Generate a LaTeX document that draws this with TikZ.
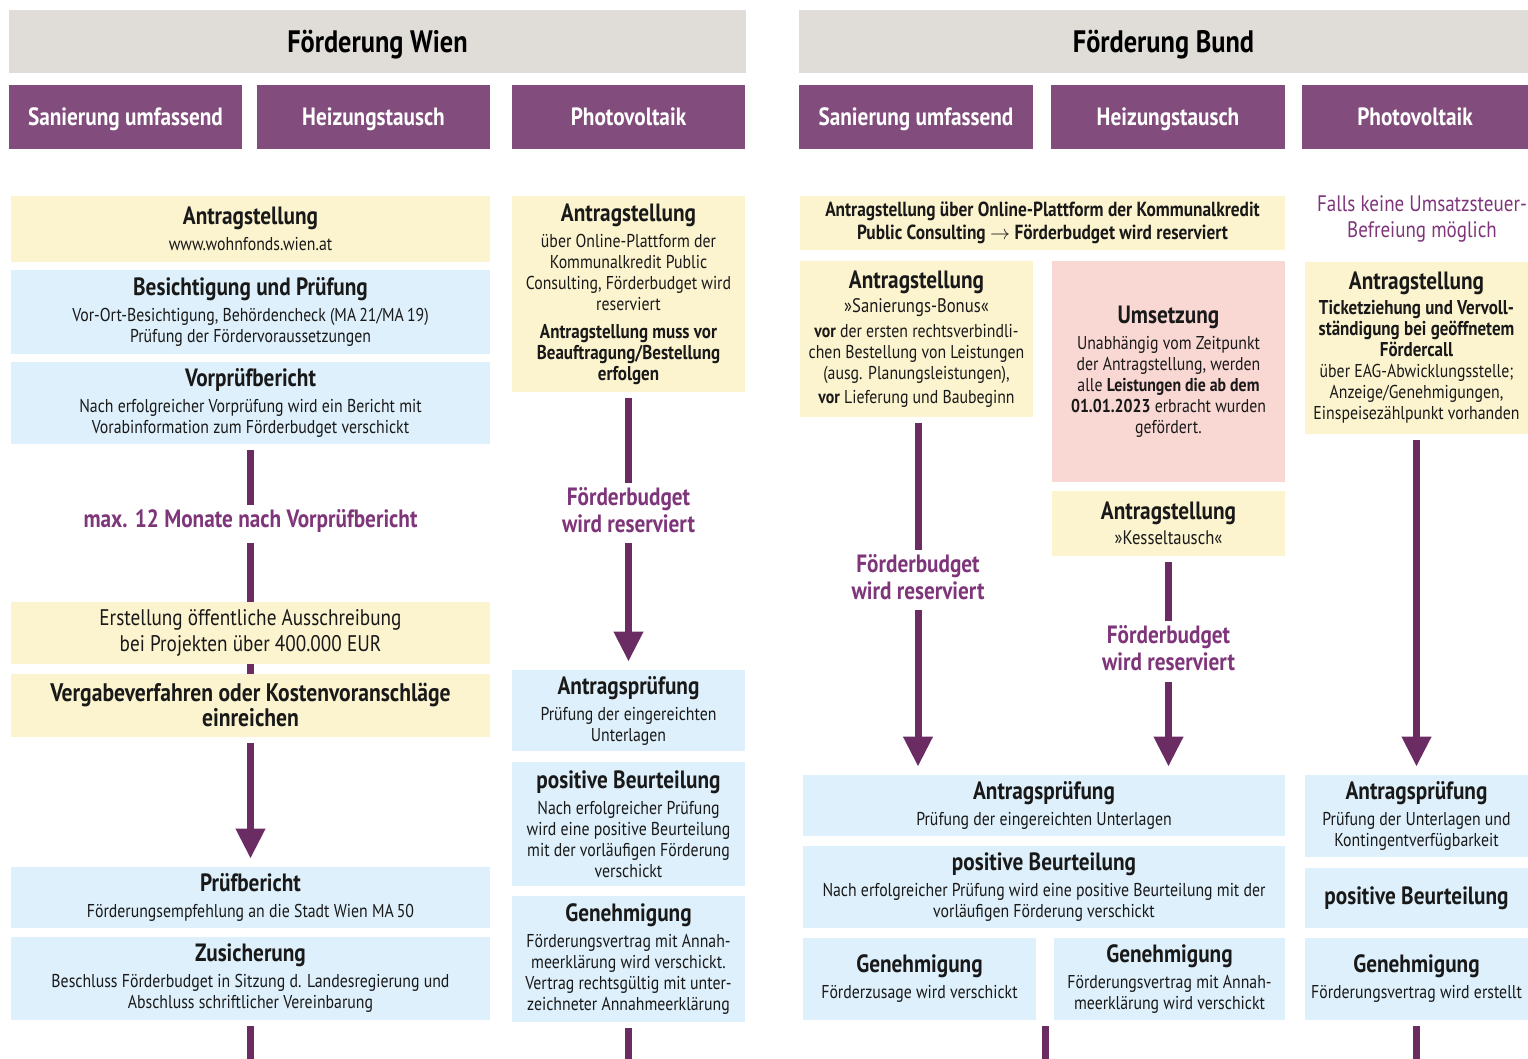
\documentclass[tikz,border=0pt]{standalone}
\usepackage{fontspec}
\setmainfont[FakeStretch=0.85]{PT Sans}
\usepackage{xcolor}
\usetikzlibrary{positioning, calc, arrows.meta}

\definecolor{kopfgrau}{HTML}{E0DCD8}
\definecolor{lila}{HTML}{824D7D}
\definecolor{gelbbox}{HTML}{FCF3CF}
\definecolor{blaubox}{HTML}{DEF0FB}
\definecolor{rosabox}{HTML}{F9D8D4}
\definecolor{lilapfeil}{HTML}{6B2C63}
\definecolor{lilatext}{HTML}{7E3579}

\newcommand{\titel}[1]{{\fontsize{12.5}{14}\selectfont\bfseries #1}}
\newcommand{\fett}[1]{{\fontsize{10}{11}\selectfont\bfseries #1}}

\tikzset{
  abm/.style 2 args={minimum width=#1*0.5pt, minimum height=#2*0.5pt},
  feld/.style={inner sep=0pt, align=center, text=black!90, font=\fontsize{9.3}{10.5}\selectfont},
  gelb/.style={feld, fill=gelbbox},
  blau/.style={feld, fill=blaubox},
  rosa/.style={feld, fill=rosabox},
  kopf/.style={inner sep=0pt, fill=kopfgrau, text height=15pt, text depth=3.5pt, font=\fontsize{15.5}{18}\selectfont\bfseries},
  reiter/.style={inner sep=0pt, fill=lila, text=white, text height=11pt, text depth=2.8pt, font=\fontsize{12.5}{14}\selectfont\bfseries},
  hinweis/.style={inner sep=2pt, align=center, text=lilatext, font=\fontsize{12.5}{13.5}\selectfont\bfseries},
  falls/.style={inner sep=0pt, align=center, text=lilatext, font=\fontsize{11.2}{13}\selectfont},
  strich/.style={draw=lilapfeil, line width=3.5pt, shorten <=3pt},
  pfeil/.style={strich, -{Triangle[width=14pt,length=15pt]}, shorten >=4pt},
}

\begin{document}
\begin{tikzpicture}[x=0.5pt, y=-0.5pt]
\useasboundingbox (0,0) rectangle (1528,1059);

% Kopfzeilen
\node[kopf, abm={737}{63}] (wien) at (377.5,41.5) {Förderung Wien};
\node[kopf, abm={729}{63}] (bund) at (1163.5,41.5) {Förderung Bund};

\foreach \x/\b/\name/\txt in {125.5/233/wsan/Sanierung umfassend, 373.5/233/wheiz/Heizungstausch, 628.5/233/wpv/Photovoltaik, 916/234/bsan/Sanierung umfassend, 1168/234/bheiz/Heizungstausch, 1415/226/bpv/Photovoltaik}
  \node[reiter, abm={\b}{64}] (\name) at (\x,117) {\txt};

% Wien: Sanierung umfassend / Heizungstausch
\node[gelb, abm={479}{66}] (wantrag) at (250.5,229) {\titel{Antragstellung}\\[2.5pt] www.wohnfonds.wien.at};
\node[blau, abm={479}{84}] (wbesicht) at (250.5,312) {\titel{Besichtigung und Prüfung}\\[2.5pt] Vor-Ort-Besichtigung, Behördencheck (MA\,21/MA\,19)\\ Prüfung der Fördervoraussetzungen};
\node[blau, abm={479}{82}] (wvorp) at (250.5,403) {\titel{Vorprüfbericht}\\[2.5pt] Nach erfolgreicher Vorprüfung wird ein Bericht mit\\ Vorabinformation zum Förderbudget verschickt};
\node[hinweis] (wmax) at (250.5,521) {max. 12 Monate nach Vorprüfbericht};
\node[gelb, abm={479}{62}, font=\fontsize{11.3}{13}\selectfont] (werst) at (250.5,633) {Erstellung öffentliche Ausschreibung\\ bei Projekten über 400.000 EUR};
\node[gelb, abm={479}{63}, font=\fontsize{12.7}{12.5}\selectfont\bfseries] (wverg) at (250.5,705.5) {Vergabeverfahren oder Kostenvoranschläge\\ einreichen};
\node[blau, abm={479}{61}] (wpruef) at (250.5,897.5) {\titel{Prüfbericht}\\[2.5pt] Förderungsempfehlung an die Stadt Wien MA\,50};
\node[blau, abm={479}{83}] (wzusich) at (250.5,978.5) {\titel{Zusicherung}\\[2.5pt] Beschluss Förderbudget in Sitzung d. Landesregierung und\\ Abschluss schriftlicher Vereinbarung};
\coordinate (wende) at (250.5,1059);

\draw[strich] (wvorp) -- (wmax);
\draw[strich] (wmax) -- (werst);
\draw[strich, shorten <=0pt] (werst) -- (wverg);
\draw[pfeil] (wverg) -- (wpruef);
\draw[strich] (wzusich) -- (wende);

% Wien: Photovoltaik
\node[gelb, abm={233}{196}] (pantrag) at (628.5,294) {\titel{Antragstellung}\\[2.5pt] über Online-Plattform der\\ Kommunalkredit Public\\ Consulting, Förderbudget wird\\ reserviert\\[3.5pt] \fett{Antragstellung muss vor}\\ \fett{Beauftragung/Bestellung}\\ \fett{erfolgen}};
\node[hinweis] (plabel) at (628.5,510) {Förderbudget\\ wird reserviert};
\node[blau, abm={233}{81}] (pap) at (628.5,710.5) {\titel{Antragsprüfung}\\[2.5pt] Prüfung der eingereichten\\ Unterlagen};
\node[blau, abm={233}{124}] (ppos) at (628.5,824) {\titel{positive Beurteilung}\\[2.5pt] Nach erfolgreicher Prüfung\\ wird eine positive Beurteilung\\ mit der vorläufigen Förderung\\ verschickt};
\node[blau, abm={233}{126}] (pgen) at (628.5,959) {\titel{Genehmigung}\\[2.5pt] Förderungsvertrag mit Annah-\\ meerklärung wird verschickt.\\ Vertrag rechtsgültig mit unter-\\ zeichneter Annahmeerklärung};
\coordinate (pende) at (628.5,1059);

\draw[strich] (pantrag) -- (plabel);
\draw[pfeil] (plabel) -- (pap);
\draw[strich] (pgen) -- (pende);

% Bund: Sanierung umfassend / Heizungstausch
\node[gelb, abm={485}{54}, font=\fontsize{10.2}{11.5}\selectfont\bfseries] (btop) at (1042.5,223) {Antragstellung über Online-Plattform der Kommunalkredit\\ Public Consulting $\rightarrow$ Förderbudget wird reserviert};
\node[gelb, abm={233}{156}] (bsana) at (916.5,339) {\titel{Antragstellung}\\[1.5pt] {\fontsize{9.8}{11}\selectfont »Sanierungs-Bonus«}\\[2pt] \textbf{vor} der ersten rechtsverbindli-\\ chen Bestellung von Leistungen\\ (ausg. Planungsleistungen),\\[1.5pt] \textbf{vor} Lieferung und Baubeginn};
\node[rosa, abm={233}{221}] (bums) at (1168.5,371.5) {\titel{Umsetzung}\\[2.5pt] Unabhängig vom Zeitpunkt\\ der Antragstellung, werden\\ alle \textbf{Leistungen die ab dem}\\ \textbf{01.01.2023} erbracht wurden\\ gefördert.};
\node[gelb, abm={233}{65}] (bkessel) at (1168.5,523.5) {\titel{Antragstellung}\\[2pt] {\fontsize{9.8}{11}\selectfont »Kesseltausch«}};
\node[hinweis] (blab1) at (918,577) {Förderbudget\\ wird reserviert};
\node[hinweis] (blab2) at (1168.5,648.5) {Förderbudget\\ wird reserviert};
\node[blau, abm={482}{61}] (bap) at (1044,805.5) {\titel{Antragsprüfung}\\[2.5pt] Prüfung der eingereichten Unterlagen};
\node[blau, abm={482}{82}] (bpos) at (1044,887) {\titel{positive Beurteilung}\\[2.5pt] Nach erfolgreicher Prüfung wird eine positive Beurteilung mit der\\ vorläufigen Förderung verschickt};
\node[blau, abm={233}{82}] (bgen1) at (919.5,979) {\titel{Genehmigung}\\[2.5pt] Förderzusage wird verschickt};
\node[blau, abm={231}{82}] (bgen2) at (1169.5,979) {\titel{Genehmigung}\\[2.5pt] Förderungsvertrag mit Annah-\\ meerklärung wird verschickt};
\coordinate (bmitte) at ($(bgen1.south east)!0.5!(bgen2.south west)$);
\coordinate (bende) at (bmitte |- wende);

\draw[strich] (blab1 |- bsana.south) -- (blab1);
\draw[pfeil] (blab1) -- (blab1 |- bap.north);
\draw[strich] (bkessel) -- (blab2);
\draw[pfeil] (blab2) -- (blab2 |- bap.north);
\draw[strich] (bmitte) -- (bende);

% Bund: Photovoltaik
\node[falls] (bfalls) at (1422,219) {Falls keine Umsatzsteuer-\\ Befreiung möglich};
\node[gelb, abm={223}{172}] (bpva) at (1416.5,348) {\titel{Antragstellung}\\[2pt] \fett{Ticketziehung und Vervoll-}\\ \fett{ständigung bei geöffnetem}\\ \fett{Fördercall}\\ über EAG-Abwicklungsstelle;\\ Anzeige/Genehmigungen,\\ Einspeisezählpunkt vorhanden};
\node[blau, abm={223}{82}] (bpvap) at (1416.5,816) {\titel{Antragsprüfung}\\[2.5pt] Prüfung der Unterlagen und\\ Kontingentverfügbarkeit};
\node[blau, abm={223}{60}] (bpvpos) at (1416.5,898) {\titel{positive Beurteilung}};
\node[blau, abm={223}{82}] (bpvgen) at (1416.5,979) {\titel{Genehmigung}\\[2.5pt] Förderungsvertrag wird erstellt};
\coordinate (bpvende) at (bpvgen |- wende);

\draw[pfeil] (bpva) -- (bpvap);
\draw[strich] (bpvgen) -- (bpvende);
\end{tikzpicture}
\end{document}
